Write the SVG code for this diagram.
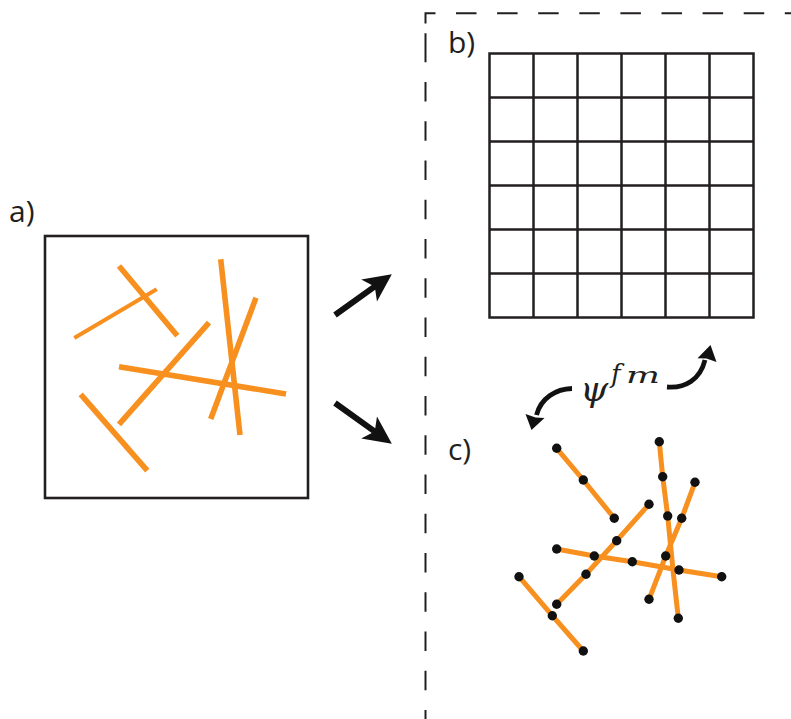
<svg xmlns="http://www.w3.org/2000/svg" width="791" height="719" viewBox="0 0 791 719">
<style>
.lbl{font-family:"Open Sans","Liberation Sans",sans-serif;font-size:30px;fill:#231f20}
.box{fill:none;stroke:#231f20;stroke-width:2.6}
.grid{fill:none;stroke:#231f20;stroke-width:2.5}
.fa{stroke:#f7901e;stroke-width:5.6;fill:none}
.fc{stroke:#f7901e;stroke-width:5;fill:none}
.dot{fill:#111}
.dash{fill:none;stroke:#231f20;stroke-width:2}
.math{font-family:"DejaVu Serif","Liberation Serif",serif;font-style:italic;fill:#231f20}
</style>
<defs>
<path id="bigArrow" d="M0,-3 L47.4,-3 L42,-13.5 L70,0 L42,13.5 L47.4,3 L0,3 Z" fill="#111"/>
</defs>
<rect width="791" height="719" fill="#fff"/>

<g id="dashedFrame">
<path class="dash" d="M435.5,13.3 H425.5 V23.5 M425.5,33.3 V62.3"/>
<path class="dash" d="M456,13.3 H791" stroke-dasharray="20.5 20.6"/>
<path class="dash" d="M425.5,82 V719" stroke-dasharray="19.5 19.75"/>
</g>

<g id="panelA">
<text class="lbl" x="9" y="222">a)</text>
<rect class="box" x="45" y="236" width="263" height="262"/>
<line class="fa" x1="119" y1="266" x2="177.3" y2="335.7"/>
<line class="fa" x1="74.3" y1="338" x2="156.7" y2="289.3" style="stroke-width:4"/>
<line class="fa" x1="220.7" y1="259.3" x2="240" y2="435"/>
<line class="fa" x1="256" y1="297.7" x2="210.7" y2="419"/>
<line class="fa" x1="209" y1="322.7" x2="119" y2="424.3"/>
<line class="fa" x1="119" y1="366.7" x2="286" y2="394"/>
<line class="fa" x1="80.7" y1="394.3" x2="147.3" y2="470.7"/>
</g>

<g id="panelB">
<text class="lbl" x="448" y="53">b)</text>
<rect class="grid" x="489.5" y="53.5" width="264" height="264"/>
<path class="grid" d="M533.5,53.5V317.5M577.5,53.5V317.5M621.5,53.5V317.5M665.5,53.5V317.5M709.5,53.5V317.5M489.5,97.5H753.5M489.5,141.5H753.5M489.5,185.5H753.5M489.5,229.5H753.5M489.5,273.5H753.5"/>
</g>

<g id="panelC">
<text class="lbl" x="448" y="460">c)</text>
<g>
<polyline class="fc" points="556.7,448.3 583.3,480 614.3,518.3"/>
<polyline class="fc" points="659.3,441.7 662.7,476.7 667.7,516 673,570 678.3,618.3"/>
<polyline class="fc" points="695,482.3 681.7,518.3 665.7,556 649,599.3"/>
<polyline class="fc" points="556.7,549 594.3,556 632.3,561.7 679,570 721.7,576.7"/>
<polyline class="fc" points="519,576.7 552.3,615.7 583.3,651"/>
<polyline class="fc" points="649,504.3 616.7,540.7 586,574.3 556.7,604.3"/>
</g>
<g class="dot">
<circle cx="556.7" cy="448.3" r="4.7"/><circle cx="583.3" cy="480" r="4.7"/><circle cx="614.3" cy="518.3" r="4.7"/>
<circle cx="659.3" cy="441.7" r="4.7"/><circle cx="662.7" cy="476.7" r="4.7"/><circle cx="667.7" cy="516" r="4.7"/><circle cx="678.3" cy="618.3" r="4.7"/>
<circle cx="695" cy="482.3" r="4.7"/><circle cx="681.7" cy="518.3" r="4.7"/><circle cx="665.7" cy="556" r="4.7"/><circle cx="649" cy="599.3" r="4.7"/>
<circle cx="556.7" cy="549" r="4.7"/><circle cx="594.3" cy="556" r="4.7"/><circle cx="632.3" cy="561.7" r="4.7"/><circle cx="679" cy="570" r="4.7"/><circle cx="721.7" cy="576.7" r="4.7"/>
<circle cx="519" cy="576.7" r="4.7"/><circle cx="552.3" cy="615.7" r="4.7"/><circle cx="583.3" cy="651" r="4.7"/>
<circle cx="649" cy="504.3" r="4.7"/><circle cx="616.7" cy="540.7" r="4.7"/><circle cx="586" cy="574.3" r="4.7"/><circle cx="556.7" cy="604.3" r="4.7"/>
</g>
</g>

<g id="connectors">
<use href="#bigArrow" transform="translate(335,315) rotate(-35.7)"/>
<use href="#bigArrow" transform="translate(335,403) rotate(35.7)"/>
<path d="M572,388.5 C556,389 541,398 536.5,415" fill="none" stroke="#111" stroke-width="4.8"/>
<path d="M531.5,430 L525.5,414 L535.5,417.5 L544.5,418 Z" fill="#111"/>
<path d="M667,387 C685,388.5 700,380 705,360" fill="none" stroke="#111" stroke-width="4.8"/>
<path d="M710.5,345 L716.5,362 L706.5,358.5 L697.5,358.3 Z" fill="#111"/>
</g>

<g id="label-psi">
<text class="math" x="580" y="401" font-size="36">ψ</text>
<text class="math" x="611" y="383" font-size="26">f</text>
<text class="math" x="626" y="383" font-size="22" textLength="34" lengthAdjust="spacingAndGlyphs">m</text>
</g>
</svg>
